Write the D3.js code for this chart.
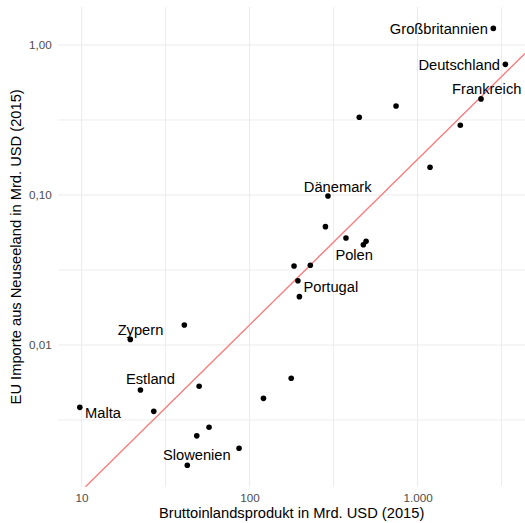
<!DOCTYPE html>
<html>
<head>
<meta charset="utf-8">
<script src="https://cdn.jsdelivr.net/npm/d3@7"></script>
<style>
  html, body { margin: 0; padding: 0; background: #fff; }
  svg { display: block; font-family: "Liberation Sans", Arial, Helvetica, sans-serif; }
</style>
</head>
<body>
<div id="chart"></div>
<script>
// ---- data ----
const countries = [
  "Großbritannien", "Deutschland", "Frankreich", "Niederlande", "Belgien", "Italien", "Spanien",
  "Dänemark", "Irland", "Österreich", "Schweden", "Polen", "Griechenland", "Finnland",
  "Portugal", "Tschechien", "Rumänien", "Ungarn", "Zypern", "Litauen", "Estland",
  "Kroatien", "Malta", "Lettland", "Luxemburg", "Bulgarien", "Slowakei", "Slowenien"
];
const gdp = [
  2827, 3334, 2388, 745, 450, 1798, 1187,
  293, 283, 375, 494, 476, 184, 230,
  194, 198, 177, 121, 19.5, 40.9, 22.4,
  50.1, 9.76, 26.9, 57.4, 48.5, 86.6, 42.6
];
const imports = [
  1.29, 0.743, 0.437, 0.392, 0.330, 0.292, 0.153,
  0.0985, 0.0615, 0.0517, 0.0491, 0.0466, 0.0336, 0.0340,
  0.0268, 0.0210, 0.0060, 0.00441, 0.0109, 0.0136, 0.00501,
  0.00531, 0.00384, 0.00361, 0.00283, 0.00248, 0.00205, 0.00158
];
const labeledCountries = ["Großbritannien", "Deutschland", "Frankreich", "Dänemark", "Polen",
  "Portugal", "Zypern", "Estland", "Malta", "Slowenien"];
const xTicks = [10, 100, 1000];
const xTickLabels = ["10", "100", "1.000"];
const yTicks = [0.01, 0.1, 1];
const yTickLabels = ["0,01", "0,10", "1,00"];
const xTitle = "Bruttoinlandsprodukt in Mrd. USD (2015)";
const yTitle = "EU Importe aus Neuseeland in Mrd. USD (2015)";

// ---- label placement (styling, not data) ----
const labelPlacement = {
  "Großbritannien": { dx: -5.5, dy: 0.5, anchor: "end" },
  "Deutschland":    { dx: -5.3, dy: 0.7, anchor: "end" },
  "Frankreich":     { dx: 5.7,  dy: -9.7, anchor: "middle" },
  "Dänemark":       { dx: 9.7,  dy: -9.3, anchor: "middle" },
  "Polen":          { dx: -9.2, dy: 10.5, anchor: "middle" },
  "Portugal":       { dx: 5.6,  dy: 6,   anchor: "start" },
  "Zypern":         { dx: 10.2, dy: -9.3, anchor: "middle" },
  "Estland":        { dx: 10,   dy: -10.7, anchor: "middle" },
  "Malta":          { dx: 5.3,  dy: 6,   anchor: "start" },
  "Slowenien":      { dx: 9.5,  dy: -10, anchor: "middle" }
};

const W = 525, H = 523;
const panel = { left: 58.3, right: 525, top: 7, bottom: 486.7 };

const data = countries.map((c, i) => ({ country: c, x: gdp[i], y: imports[i] }));

const x = d3.scaleLog()
  .domain([Math.pow(10, 0.8613), Math.pow(10, 3.6399)])
  .range([panel.left, panel.right]);
const y = d3.scaleLog()
  .domain([Math.pow(10, -2.9447), Math.pow(10, 0.2533)])
  .range([panel.bottom, panel.top]);

const svg = d3.select("#chart").append("svg")
  .attr("width", W).attr("height", H);

// clip
svg.append("defs").append("clipPath").attr("id", "pclip")
  .append("rect")
  .attr("x", panel.left).attr("y", panel.top)
  .attr("width", panel.right - panel.left).attr("height", panel.bottom - panel.top);

// grid: minor (half decades) and major
const minorX = [Math.pow(10, 1.5), Math.pow(10, 2.5), Math.pow(10, 3.5)];
const minorY = [Math.pow(10, -2.5), Math.pow(10, -1.5), Math.pow(10, -0.5)];
const grid = svg.append("g");
grid.selectAll(".mx").data(minorX).join("line")
  .attr("x1", d => x(d)).attr("x2", d => x(d))
  .attr("y1", panel.top).attr("y2", panel.bottom)
  .attr("stroke", "#EBEBEB").attr("stroke-width", 0.9);
grid.selectAll(".my").data(minorY).join("line")
  .attr("y1", d => y(d)).attr("y2", d => y(d))
  .attr("x1", panel.left).attr("x2", panel.right)
  .attr("stroke", "#EBEBEB").attr("stroke-width", 0.9);
grid.selectAll(".Mx").data(xTicks).join("line")
  .attr("x1", d => x(d)).attr("x2", d => x(d))
  .attr("y1", panel.top).attr("y2", panel.bottom)
  .attr("stroke", "#EBEBEB").attr("stroke-width", 1.07);
grid.selectAll(".My").data(yTicks).join("line")
  .attr("y1", d => y(d)).attr("y2", d => y(d))
  .attr("x1", panel.left).attr("x2", panel.right)
  .attr("stroke", "#EBEBEB").attr("stroke-width", 1.07);

// axes (text only, theme_minimal)
const xAxis = svg.append("g")
  .attr("transform", `translate(0,${panel.bottom})`)
  .call(d3.axisBottom(x).tickValues(xTicks).tickFormat((d, i) => xTickLabels[i]).tickSize(0).tickPadding(7));
const yAxis = svg.append("g")
  .attr("transform", `translate(${panel.left},0)`)
  .call(d3.axisLeft(y).tickValues(yTicks).tickFormat((d, i) => yTickLabels[i]).tickSize(0).tickPadding(6.5));
[xAxis, yAxis].forEach(a => {
  a.attr("font-family", null).attr("font-size", null);
  a.select(".domain").remove();
  a.selectAll("text")
    .attr("fill", "#4D4D4D")
    .style("font-size", "11.7px")
    .style("font-family", '"Liberation Sans", Arial, Helvetica, sans-serif');
});

// regression line: OLS of log10(y) on log10(x)
const lx = data.map(d => Math.log10(d.x));
const ly = data.map(d => Math.log10(d.y));
const mx = d3.mean(lx), my = d3.mean(ly);
const slope = d3.sum(lx.map((v, i) => (v - mx) * (ly[i] - my))) / d3.sum(lx.map(v => (v - mx) * (v - mx)));
const intercept = my - slope * mx;
const xs = d3.range(0, 101).map(i => {
  const [a, b] = x.domain().map(Math.log10);
  return Math.pow(10, a + (b - a) * i / 100);
});
svg.append("path")
  .attr("clip-path", "url(#pclip)")
  .datum(xs)
  .attr("fill", "none")
  .attr("stroke", "#FA7E7E")
  .attr("stroke-width", 1.4)
  .attr("d", d3.line()
    .x(d => x(d))
    .y(d => y(Math.pow(10, intercept + slope * Math.log10(d)))));

// points
svg.append("g").selectAll("circle").data(data).join("circle")
  .attr("cx", d => x(d.x)).attr("cy", d => y(d.y))
  .attr("r", 2.8).attr("fill", "#000");

// labels
svg.append("g").selectAll("text")
  .data(data.filter(d => labeledCountries.includes(d.country)))
  .join("text")
  .attr("x", d => x(d.x) + labelPlacement[d.country].dx)
  .attr("y", d => y(d.y) + labelPlacement[d.country].dy)
  .attr("dy", "0.35em")
  .attr("text-anchor", d => labelPlacement[d.country].anchor)
  .attr("fill", "#000")
  .style("font-size", "14.7px")
  .text(d => d.country);

// axis titles
svg.append("text")
  .attr("x", (panel.left + panel.right) / 2)
  .attr("y", 518)
  .attr("text-anchor", "middle")
  .attr("fill", "#000")
  .style("font-size", "14.7px")
  .text(xTitle);
svg.append("text")
  .attr("transform", `translate(21,${(panel.top + panel.bottom) / 2}) rotate(-90)`)
  .attr("text-anchor", "middle")
  .attr("fill", "#000")
  .style("font-size", "14.7px")
  .text(yTitle);
</script>
</body>
</html>
